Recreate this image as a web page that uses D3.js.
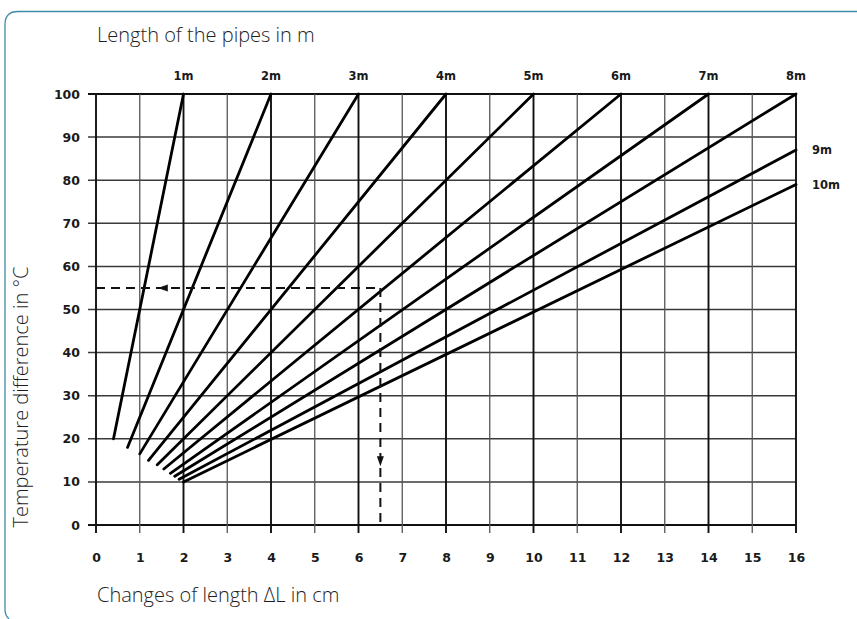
<!DOCTYPE html>
<html>
<head>
<meta charset="utf-8">
<script src="https://cdn.jsdelivr.net/npm/d3@7"></script>
<style>
  body { margin: 0; background: #fff; }
  svg { display: block; }
</style>
</head>
<body>
<div id="chart-area"></div>
<script>
// pipe lengths and the start / end of every line (ΔL in cm, ΔT in °C)
let pipes = ["1m", "2m", "3m", "4m", "5m", "6m", "7m", "8m", "9m", "10m"];
let startDL = [0.4, 0.72, 1.0, 1.2, 1.4, 1.55, 1.7, 1.8, 1.9, 2.0];
let startDT = [20, 18, 16.5, 15, 14, 13, 12, 11.3, 10.6, 10];
let endDL = [2, 4, 6, 8, 10, 12, 14, 16, 16, 16];
let endDT = [100, 100, 100, 100, 100, 100, 100, 100, 87, 79];

let xTicks = [0, 1, 2, 3, 4, 5, 6, 7, 8, 9, 10, 11, 12, 13, 14, 15, 16];
let yTicks = [0, 10, 20, 30, 40, 50, 60, 70, 80, 90, 100];

// worked example: 55 °C read across to 6.5 cm
let exampleDT = 55;
let exampleDL = 6.5;

let margin = { left: 96, right: 61, top: 94, bottom: 94 };
let width = 857 - margin.left - margin.right,
    height = 619 - margin.top - margin.bottom;

let svg = d3.select("#chart-area")
    .append("svg")
        .attr("width", 857)
        .attr("height", 619);

// teal frame, top + left edge with rounded corner
svg.append("path")
    .attr("d", "M857,11.5 L18,11.5 Q5,11.5 5,24.5 L5,610 Q5,615 9,619")
    .attr("fill", "none")
    .attr("stroke", "#3d8ba6")
    .attr("stroke-width", 1.3);

let g = svg.append("g")
    .attr("transform", `translate(${margin.left}, ${margin.top})`);

let x = d3.scaleLinear().domain([0, 16]).range([0, width]);
let y = d3.scaleLinear().domain([0, 100]).range([height, 0]);

// grid
g.selectAll(".hgrid")
    .data(yTicks)
    .enter().append("line")
        .attr("class", "hgrid")
        .attr("x1", -8)
        .attr("x2", width)
        .attr("y1", d => y(d))
        .attr("y2", d => y(d))
        .attr("stroke", d => (d === 0 || d === 100) ? "#111" : "#3a3a3a")
        .attr("stroke-width", d => (d === 0 || d === 100) ? 2 : 1.5);

g.selectAll(".vgrid")
    .data(xTicks)
    .enter().append("line")
        .attr("class", "vgrid")
        .attr("x1", d => x(d))
        .attr("x2", d => x(d))
        .attr("y1", 0)
        .attr("y2", height + 8)
        .attr("stroke", d => d % 2 === 0 ? "#111" : "#555")
        .attr("stroke-width", d => d % 2 === 0 ? 1.9 : 1.3);

// axes (labels only, grid already drawn)
let xAxisCall = d3.axisBottom(x)
    .tickValues(xTicks)
    .tickSize(0)
    .tickPadding(28)
    .tickFormat(d3.format("d"));

let yAxisCall = d3.axisLeft(y)
    .tickValues(yTicks)
    .tickSize(0)
    .tickPadding(16);

let xAxis = g.append("g")
    .attr("class", "x axis")
    .attr("transform", `translate(0, ${height})`)
    .call(xAxisCall);

let yAxis = g.append("g")
    .attr("class", "y axis")
    .call(yAxisCall);

[xAxis, yAxis].forEach(a => {
    a.select(".domain").remove();
    a.selectAll("text")
        .attr("font-family", "DejaVu Sans")
        .attr("font-weight", "bold")
        .attr("font-size", "12.5px")
        .attr("fill", "#1a1a1a");
});

// pipe lines
let lines = pipes.map((p, i) => ({
    name: p, x1: startDL[i], y1: startDT[i], x2: endDL[i], y2: endDT[i]
}));

g.selectAll(".pipe")
    .data(lines)
    .enter().append("line")
        .attr("class", "pipe")
        .attr("x1", d => x(d.x1))
        .attr("y1", d => y(d.y1))
        .attr("x2", d => x(d.x2))
        .attr("y2", d => y(d.y2))
        .attr("stroke", "#000")
        .attr("stroke-width", 2.8)
        .attr("stroke-linecap", "round");

// pipe labels
g.selectAll(".plabel")
    .data(lines)
    .enter().append("text")
        .attr("class", "plabel")
        .attr("x", d => d.y2 === 100 ? x(d.x2) : x(d.x2) + 16)
        .attr("y", d => d.y2 === 100 ? -14 : y(d.y2) + 4)
        .attr("text-anchor", d => d.y2 === 100 ? "middle" : "start")
        .attr("font-family", "DejaVu Sans")
        .attr("font-weight", "bold")
        .attr("font-size", "11.5px")
        .attr("fill", "#1a1a1a")
        .text(d => d.name);

// dashed reading example
let dash = g.append("g").attr("class", "example");
dash.append("line")
    .attr("x1", x(0)).attr("x2", x(exampleDL))
    .attr("y1", y(exampleDT)).attr("y2", y(exampleDT));
dash.append("line")
    .attr("x1", x(exampleDL)).attr("x2", x(exampleDL))
    .attr("y1", y(exampleDT)).attr("y2", y(0));
dash.selectAll("line")
    .attr("stroke", "#111")
    .attr("stroke-width", 2)
    .attr("stroke-dasharray", "9,6");

let ax = x(1.55), ay = y(exampleDT);
dash.append("path")
    .attr("d", `M${ax - 6},${ay} L${ax + 4},${ay - 3.5} L${ax + 4},${ay + 3.5} Z`)
    .attr("fill", "#111");
let bx = x(exampleDL), by = y(15);
dash.append("path")
    .attr("d", `M${bx},${by + 6} L${bx - 3.5},${by - 4} L${bx + 3.5},${by - 4} Z`)
    .attr("fill", "#111");

// titles
let titleStyle = sel => sel
    .attr("font-family", "Open Sans")
    .attr("font-weight", 300)
    .attr("font-size", "20px")
    .attr("fill", "#1e1e1e");

svg.append("text")
    .attr("x", 97)
    .attr("y", 42)
    .call(titleStyle)
    .text("Length of the pipes in m");

svg.append("text")
    .attr("x", 97)
    .attr("y", 602)
    .call(titleStyle)
    .text("Changes of length ΔL in cm");

svg.append("text")
    .attr("transform", "translate(28, 397) rotate(-90)")
    .attr("text-anchor", "middle")
    .call(titleStyle)
    .text("Temperature difference in °C");
</script>
</body>
</html>
